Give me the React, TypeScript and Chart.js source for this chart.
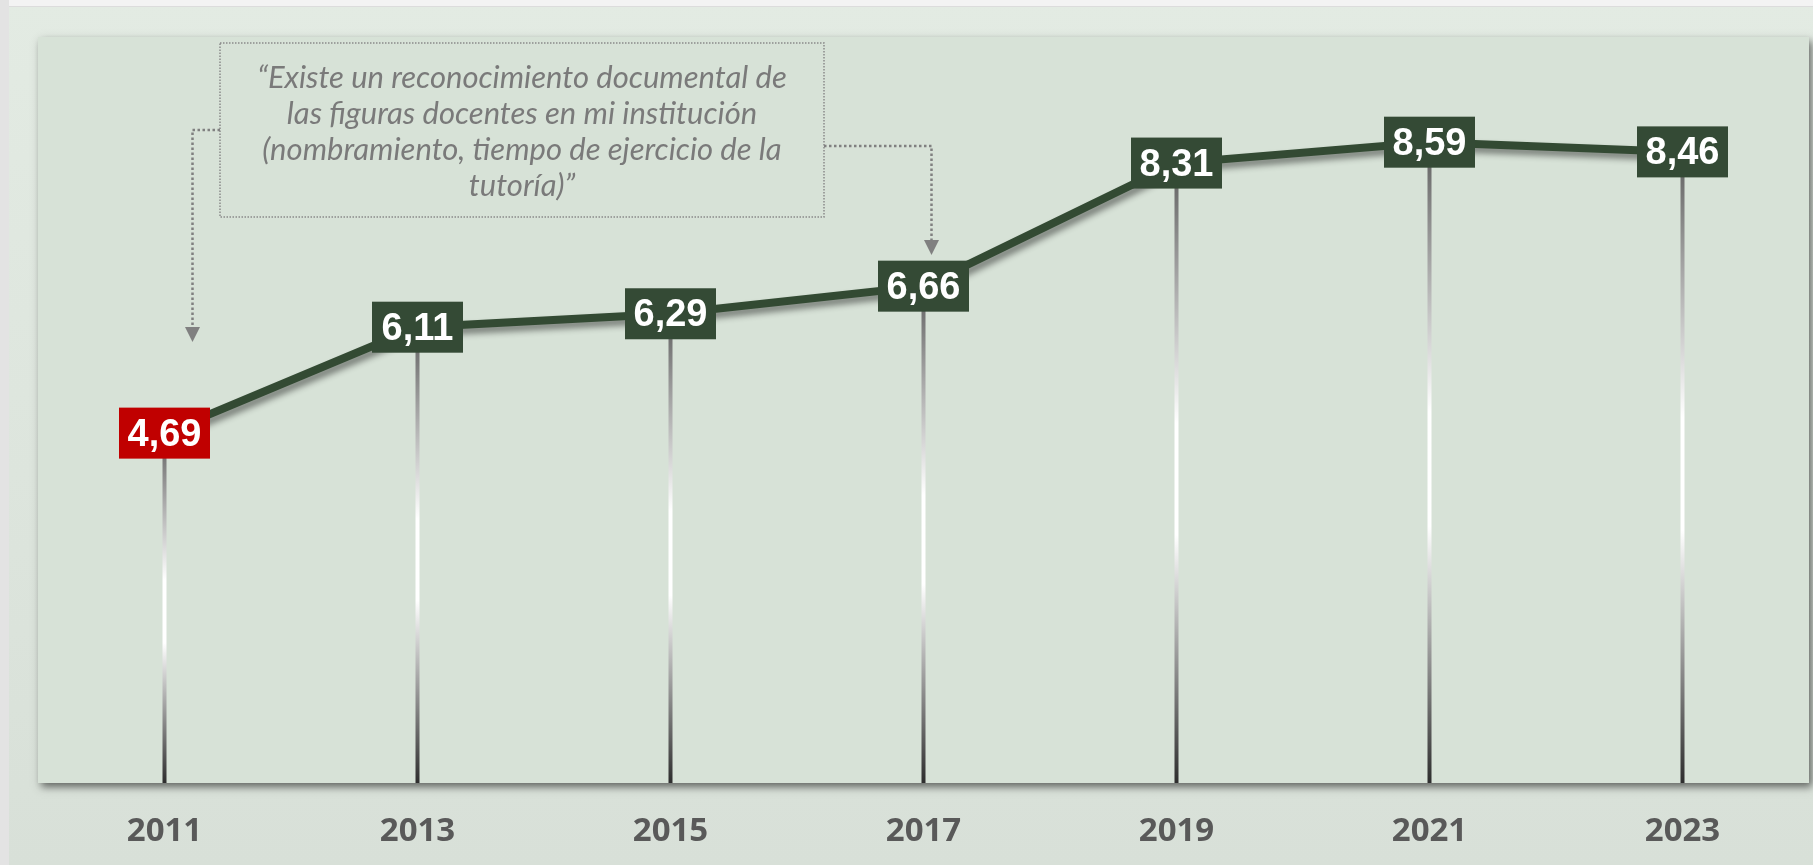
import React, { useEffect, useRef } from "react";
import { Chart, registerables } from "chart.js";

Chart.register(...registerables);

const years = ["2011", "2013", "2015", "2017", "2019", "2021", "2023"];
const scores = [4.69, 6.11, 6.29, 6.66, 8.31, 8.59, 8.46];
const highlightIndex = 0;
const noteLines = [
  "\u201CExiste un reconocimiento documental de",
  "las figuras docentes en mi instituci\u00F3n",
  "(nombramiento, tiempo de ejercicio de la",
  "tutor\u00EDa)\u201D",
];

const W = 1813;
const H = 865;

const fmt = (v: number) => v.toFixed(2).replace(".", ",");

const decor = {
  id: "decor",
  beforeDraw(chart: any) {
    const { ctx, chartArea: a } = chart;
    ctx.save();
    const g = ctx.createLinearGradient(0, 0, 0, H);
    g.addColorStop(0, "#e3ebe3");
    g.addColorStop(1, "#d8e0d8");
    ctx.fillStyle = g;
    ctx.fillRect(0, 0, W, H);
    ctx.fillStyle = "#f3f3f3";
    ctx.fillRect(0, 0, W, 6);
    ctx.fillStyle = "#dcdcdc";
    ctx.fillRect(0, 6, W, 1);
    ctx.fillStyle = "#e3e3e3";
    ctx.fillRect(0, 0, 9, H);
    ctx.shadowColor = "rgba(0,0,0,0.55)";
    ctx.shadowBlur = 8;
    ctx.shadowOffsetX = 3;
    ctx.shadowOffsetY = 4;
    ctx.fillStyle = "#d7e2d7";
    ctx.fillRect(a.left, a.top, a.right - a.left, a.bottom - a.top);
    ctx.restore();
  },
  beforeDatasetsDraw(chart: any) {
    const { ctx, chartArea: a } = chart;
    const meta = chart.getDatasetMeta(0);
    ctx.save();
    meta.data.forEach((pt: any) => {
      const g = ctx.createLinearGradient(0, pt.y, 0, a.bottom);
      g.addColorStop(0, "#5e5e5e");
      g.addColorStop(0.42, "#ffffff");
      g.addColorStop(0.6, "#ffffff");
      g.addColorStop(1, "#2e2e2e");
      ctx.strokeStyle = g;
      ctx.lineWidth = 4;
      ctx.beginPath();
      ctx.moveTo(pt.x, pt.y);
      ctx.lineTo(pt.x, a.bottom);
      ctx.stroke();
    });
    ctx.restore();
  },
  beforeDatasetDraw(chart: any) {
    const ctx = chart.ctx;
    ctx.save();
    ctx.shadowColor = "rgba(0,0,0,0.45)";
    ctx.shadowBlur = 6;
    ctx.shadowOffsetX = 3;
    ctx.shadowOffsetY = 5;
  },
  afterDatasetDraw(chart: any) {
    chart.ctx.restore();
  },
  afterDatasetsDraw(chart: any) {
    const { ctx, chartArea: a, scales } = chart;
    const meta = chart.getDatasetMeta(0);
    ctx.save();
    // value labels
    ctx.font = "bold 38px 'Liberation Sans', Arial, sans-serif";
    ctx.textAlign = "center";
    ctx.textBaseline = "middle";
    meta.data.forEach((pt: any, i: number) => {
      const bw = 91;
      const bh = 51;
      ctx.fillStyle = i === highlightIndex ? "#c00000" : "#344a35";
      ctx.fillRect(pt.x - bw / 2, pt.y - bh / 2, bw, bh);
      ctx.fillStyle = "#ffffff";
      ctx.fillText(fmt(scores[i]), pt.x, pt.y + 2);
    });

    // annotation box
    const x0 = scales.x.getPixelForValue(0);
    const x3 = scales.x.getPixelForValue(3);
    const bx = a.left + 182;
    const by = a.top + 6;
    const bwid = 604;
    const bht = 174;
    ctx.strokeStyle = "#8a8a8a";
    ctx.lineWidth = 1.5;
    ctx.setLineDash([1.5, 1.5]);
    ctx.strokeRect(bx, by, bwid, bht);

    ctx.fillStyle = "#7a7a7a";
    ctx.font = "italic 31px Lato, 'Open Sans', sans-serif";
    ctx.textBaseline = "middle";
    noteLines.forEach((ln, i) => {
      ctx.fillText(ln, bx + bwid / 2, by + 35 + i * 36);
    });

    // connectors
    ctx.strokeStyle = "#808080";
    ctx.lineWidth = 2.5;
    ctx.setLineDash([2.5, 2.5]);
    const lx = x0 + 28;
    const ly = a.top + 93;
    const lArrowTop = a.top + 290;
    ctx.beginPath();
    ctx.moveTo(bx, ly);
    ctx.lineTo(lx, ly);
    ctx.lineTo(lx, lArrowTop);
    ctx.stroke();
    const rx = x3 + 8;
    const ry = a.top + 109;
    const rArrowTop = a.top + 203;
    ctx.beginPath();
    ctx.moveTo(bx + bwid, ry);
    ctx.lineTo(rx, ry);
    ctx.lineTo(rx, rArrowTop);
    ctx.stroke();
    ctx.setLineDash([]);
    ctx.fillStyle = "#808080";
    [
      [lx, lArrowTop],
      [rx, rArrowTop],
    ].forEach(([x, y]) => {
      ctx.beginPath();
      ctx.moveTo(x - 7.5, y);
      ctx.lineTo(x + 7.5, y);
      ctx.lineTo(x, y + 15);
      ctx.closePath();
      ctx.fill();
    });
    ctx.restore();
  },
};

export default function App() {
  const ref = useRef<HTMLCanvasElement | null>(null);
  useEffect(() => {
    document.body.style.margin = "0";
    document.body.style.overflow = "hidden";
    const chart = new Chart(ref.current as HTMLCanvasElement, {
      type: "line",
      data: {
        labels: years,
        datasets: [
          {
            data: scores,
            borderColor: "#334a33",
            borderWidth: 8,
            pointRadius: 0,
            tension: 0,
            fill: false,
          },
        ],
      },
      options: {
        responsive: false,
        animation: false,
        layout: { padding: { left: 38, right: 4, top: 37, bottom: 0 } },
        plugins: {
          legend: { display: false },
          tooltip: { enabled: false },
          title: { display: false },
        },
        scales: {
          x: {
            type: "category",
            offset: true,
            grid: { display: false, drawTicks: false, tickLength: 0 },
            border: { display: false },
            afterFit: (scale: any) => {
              scale.height = 82;
            },
            ticks: {
              padding: 29,
              color: "#595959",
              font: { family: "'Open Sans'", weight: "bold", size: 33 },
            },
          },
          y: { display: false, min: 0, max: 10 },
        },
      },
      plugins: [decor],
    });
    return () => chart.destroy();
  }, []);
  return (
    <div style={{ position: "absolute", left: 0, top: 0, width: W, height: H }}>
      <canvas ref={ref} width={W} height={H} style={{ width: W, height: H, display: "block" }} />
    </div>
  );
}
